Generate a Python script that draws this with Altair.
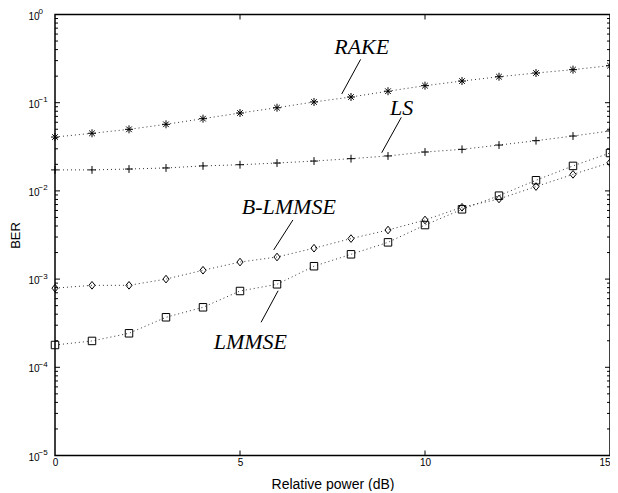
import altair as alt
import pandas as pd

# ---- data ----
power = list(range(16))
series_names = ["RAKE", "LS", "B-LMMSE", "LMMSE"]
rake = [0.0408, 0.045, 0.0499, 0.0569, 0.0659, 0.0764, 0.0877, 0.102,
        0.116, 0.135, 0.156, 0.176, 0.197, 0.217, 0.237, 0.263]
ls = [0.0173, 0.0173, 0.0177, 0.0182, 0.0192, 0.0198, 0.0207, 0.0218,
      0.0232, 0.0249, 0.0276, 0.0296, 0.0331, 0.0371, 0.0419, 0.0478]
blmmse = [0.00079, 0.00085, 0.00085, 0.0010, 0.00126, 0.00156, 0.00178, 0.00224,
          0.00288, 0.0036, 0.00468, 0.00652, 0.0081, 0.0112, 0.0154, 0.0209]
lmmse = [0.000179, 0.000199, 0.000243, 0.000369, 0.000479, 0.000733, 0.000873, 0.0014,
         0.00191, 0.00261, 0.0041, 0.00618, 0.00883, 0.0132, 0.0192, 0.0269]

label_text = ["RAKE", "LS", "B-LMMSE", "LMMSE"]
label_x = [8.29, 9.37, 6.32, 5.28]
label_y = [0.431, 0.0871, 0.00662, 0.000195]
pointer_x1 = [8.26, 9.36, 6.43, 6.03]
pointer_y1 = [0.310, 0.0683, 0.00468, 0.000738]
pointer_x2 = [7.75, 8.83, 5.91, 5.57]
pointer_y2 = [0.1256, 0.0271, 0.00214, 0.000324]

x_ticks = [0, 5, 10, 15]
x_inner_ticks = [5, 10]
y_major = [1e-5, 1e-4, 1e-3, 1e-2, 1e-1, 1.0]
y_exponents = ["−5", "−4", "−3", "−2", "−1", "0"]
y_minor = [m * 10.0 ** e for e in range(-5, 0) for m in range(2, 10)]

# ---- tables ----
rows = []
for name, vals in zip(series_names, [rake, ls, blmmse, lmmse]):
    for xv, yv in zip(power, vals):
        rows.append({"series": name, "x": xv, "y": yv})
df = pd.DataFrame(rows)
labels_df = pd.DataFrame({"text": label_text, "x": label_x, "y": label_y})
pointer_df = pd.DataFrame({"x": pointer_x1, "y": pointer_y1, "x2": pointer_x2, "y2": pointer_y2})
ymaj_df = pd.DataFrame({"y": y_major, "exp": y_exponents})
ymin_df = pd.DataFrame({"y": y_minor})
xt_df = pd.DataFrame({"x": x_inner_ticks})

W, H = 555, 441
SANS = "Liberation Sans"
xscale = alt.Scale(domain=[0, 15], nice=False, zero=False)
yscale = alt.Scale(type="log", domain=[1e-5, 1], nice=False)

X = alt.X("x:Q", scale=xscale,
          axis=alt.Axis(values=x_ticks, ticks=False, domain=False, grid=False,
                        title="Relative power (dB)", labelFontSize=10, titleFontSize=14,
                        titleFontWeight="normal", labelPadding=2,
                        labelAlign={"condition": {"test": "datum.value == 15", "value": "right"},
                                    "value": "center"},
                        titleBaseline="alphabetic", titleY=33,
                        labelFont=SANS, titleFont=SANS,
                        labelColor="black", titleColor="black", labelFlush=False))
Y = alt.Y("y:Q", scale=yscale,
          axis=alt.Axis(values=y_major, labelExpr="'10'", ticks=False, domain=False,
                        grid=False, title="BER", labelFontSize=10, titleFontSize=13,
                        titleFontWeight="normal", labelPadding=16, labelOffset=1.5,
                        titleX=-40, titleBaseline="middle",
                        labelFont=SANS, titleFont=SANS,
                        labelColor="black", titleColor="black", labelFlush=False))

lines = alt.Chart(df).mark_line(strokeDash=[1, 3], strokeWidth=1, color="#333").encode(
    x=X, y=Y, detail="series:N", order="x:Q")

asterisk = "M-1,0L1,0M0,-1L0,1M-0.7,-0.7L0.7,0.7M-0.7,0.7L0.7,-0.7"
plus = "M-1,0L1,0M0,-1L0,1"
diamond = "M0,-1L0.8,0L0,1L-0.8,0Z"
square = "M-1,-1L1,-1L1,1L-1,1Z"

points = alt.Chart(df).mark_point(filled=False, color="black", strokeWidth=1, opacity=1).encode(
    x=X, y=Y,
    shape=alt.Shape("series:N", scale=alt.Scale(domain=series_names,
                                                range=[asterisk, plus, diamond, square]),
                    legend=None),
    size=alt.Size("series:N", scale=alt.Scale(domain=series_names, range=[64, 56, 100, 44]),
                  legend=None),
)

texts = alt.Chart(labels_df).mark_text(font="Liberation Serif", fontStyle="italic",
                                       fontSize=22, align="center", baseline="middle",
                                       color="black").encode(x=X, y=Y, text="text:N")

pointers = alt.Chart(pointer_df).mark_rule(color="black", strokeWidth=1).encode(
    x=X, y=Y, x2="x2:Q", y2="y2:Q")

exps = alt.Chart(ymaj_df).mark_text(font=SANS, fontSize=8, align="left", baseline="middle",
                                    dy=-2.5, color="black").encode(
    y=Y, x=alt.value(-16.5), text="exp:N")

tick_style = dict(color="black", strokeWidth=1)
yl_major = alt.Chart(ymaj_df).mark_rule(**tick_style).encode(y=Y, x=alt.value(0), x2=alt.value(5))
yr_major = alt.Chart(ymaj_df).mark_rule(**tick_style).encode(y=Y, x=alt.value(W - 5), x2=alt.value(W))
yl_minor = alt.Chart(ymin_df).mark_rule(**tick_style).encode(y=Y, x=alt.value(0), x2=alt.value(3))
yr_minor = alt.Chart(ymin_df).mark_rule(**tick_style).encode(y=Y, x=alt.value(W - 3), x2=alt.value(W))
xb = alt.Chart(xt_df).mark_rule(**tick_style).encode(x=X, y=alt.value(H - 5), y2=alt.value(H))
xtp = alt.Chart(xt_df).mark_rule(**tick_style).encode(x=X, y=alt.value(0), y2=alt.value(5))

chart = alt.layer(lines, points, pointers, texts, exps, yl_major, yr_major, yl_minor, yr_minor,
                  xb, xtp).properties(
    width=W, height=H, autosize="none",
    padding={"left": 47, "top": 6.5, "right": 0, "bottom": 35},
    background="white",
).configure_view(stroke="black", strokeWidth=1.5)

chart.save("out.html", embed_options={"renderer": "svg", "actions": False})
